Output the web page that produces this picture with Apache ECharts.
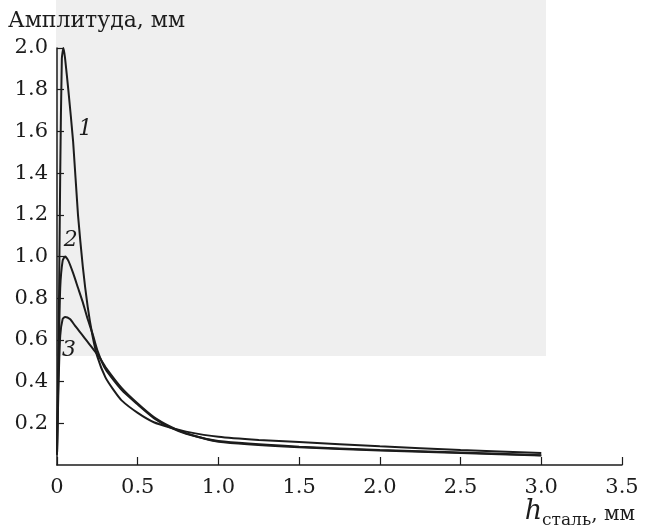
<!DOCTYPE html>
<html>
<head>
<meta charset="utf-8">
<script src="https://cdn.jsdelivr.net/npm/echarts@6/dist/echarts.min.js"></script>
<style>
  html, body { margin: 0; padding: 0; background: #fff; }
  #main { width: 648px; height: 529px; }
</style>
</head>
<body>
<div id="main"></div>
<script>
// толщина стали, мм
var hCurve1 = [0, 0.01, 0.02, 0.03, 0.04, 0.05, 0.07, 0.1, 0.13, 0.16, 0.19, 0.22, 0.25, 0.3, 0.35, 0.4, 0.5, 0.6, 0.7, 0.8, 1.0, 1.25, 1.5, 2.0, 2.5, 3.0];
var ampCurve1 = [0.05, 0.6, 1.4, 1.95, 2.0, 1.95, 1.8, 1.55, 1.2, 0.95, 0.76, 0.62, 0.52, 0.42, 0.36, 0.31, 0.25, 0.205, 0.18, 0.16, 0.135, 0.12, 0.11, 0.09, 0.072, 0.058];

var hCurve2 = [0, 0.01, 0.02, 0.035, 0.05, 0.07, 0.1, 0.13, 0.16, 0.19, 0.22, 0.25, 0.3, 0.4, 0.5, 0.6, 0.7, 0.8, 1.0, 1.5, 2.0, 2.5, 3.0];
var ampCurve2 = [0.05, 0.5, 0.85, 0.98, 1.0, 0.98, 0.92, 0.85, 0.78, 0.7, 0.63, 0.55, 0.46, 0.36, 0.29, 0.225, 0.18, 0.15, 0.115, 0.088, 0.072, 0.06, 0.047];

var hCurve3 = [0, 0.01, 0.02, 0.035, 0.05, 0.08, 0.11, 0.14, 0.17, 0.2, 0.23, 0.26, 0.3, 0.4, 0.5, 0.6, 0.7, 0.8, 1.0, 1.5, 2.0, 2.5, 3.0];
var ampCurve3 = [0.05, 0.4, 0.62, 0.7, 0.71, 0.7, 0.67, 0.64, 0.61, 0.58, 0.55, 0.52, 0.47, 0.37, 0.295, 0.23, 0.185, 0.152, 0.112, 0.085, 0.07, 0.058, 0.045];

var curveNames = ['1', '2', '3'];
var xTicks = [0, 0.5, 1.0, 1.5, 2.0, 2.5, 3.0, 3.5];
var yTicks = [0, 0.2, 0.4, 0.6, 0.8, 1.0, 1.2, 1.4, 1.6, 1.8, 2.0];

// где стоят номера кривых (в единицах осей)
var nameAnchors = [[0.175, 1.61], [0.085, 1.08], [0.075, 0.55]];

var serif = '"DejaVu Serif", "Liberation Serif", serif';

function pairs(xs, ys) {
    var out = [];
    for (var i = 0; i < xs.length; i++) out.push([xs[i], ys[i]]);
    return out;
}

var chart = echarts.init(document.getElementById('main'));

var makeSeries = function (idx, xs, ys) {
    return {
        name: curveNames[idx],
        type: 'line',
        data: pairs(xs, ys),
        showSymbol: false,
        smooth: 0.2,
        lineStyle: { color: '#1c1c1c', width: 2 },
        markPoint: {
            symbol: 'circle',
            symbolSize: 0,
            silent: true,
            label: {
                show: true,
                formatter: '{b}',
                fontFamily: serif,
                fontStyle: 'italic',
                fontSize: 22,
                color: '#1c1c1c'
            },
            data: [{ name: curveNames[idx], coord: nameAnchors[idx] }]
        },
        z: 3
    };
};

var option = {
    backgroundColor: '#fff',
    animation: false,
    graphic: [
        {
            type: 'rect',
            z: -10,
            silent: true,
            shape: { x: 56, y: 0, width: 490, height: 356 },
            style: { fill: '#efefef' }
        }
    ],
    grid: { left: 57, right: 26, top: 48, bottom: 64 },
    xAxis: {
        type: 'value',
        min: xTicks[0],
        max: xTicks[xTicks.length - 1],
        interval: 0.5,
        name: '{h|h}{sub|сталь}{n|, мм}',
        nameLocation: 'end',
        nameGap: 0,
        nameTextStyle: {
            align: 'right',
            verticalAlign: 'top',
            padding: [33, -13, 0, 0],
            rich: {
                h: { fontFamily: serif, fontStyle: 'italic', fontSize: 27, color: '#1c1c1c', verticalAlign: 'bottom' },
                sub: { fontFamily: serif, fontSize: 17, color: '#1c1c1c', verticalAlign: 'bottom', padding: [0, 0, -4, 0] },
                n: { fontFamily: serif, fontSize: 20, color: '#1c1c1c', verticalAlign: 'bottom' }
            }
        },
        axisLine: { lineStyle: { color: '#1c1c1c', width: 1.5 } },
        axisTick: { inside: true, length: 8, lineStyle: { color: '#1c1c1c', width: 1.2 } },
        axisLabel: {
            margin: 12,
            fontFamily: serif,
            fontSize: 21,
            color: '#1c1c1c',
            formatter: function (v) { return v === 0 ? '0' : v.toFixed(1); }
        },
        splitLine: { show: false }
    },
    yAxis: {
        type: 'value',
        min: yTicks[0],
        max: yTicks[yTicks.length - 1],
        interval: 0.2,
        name: 'Амплитуда, мм',
        nameLocation: 'end',
        nameGap: 16,
        nameTextStyle: {
            align: 'left',
            padding: [0, 0, 0, -49],
            fontFamily: serif,
            fontSize: 22,
            color: '#1c1c1c'
        },
        axisLine: { show: true, lineStyle: { color: '#1c1c1c', width: 1.5 } },
        axisTick: { show: true, inside: true, length: 7, lineStyle: { color: '#1c1c1c', width: 1.2 } },
        axisLabel: {
            margin: 9,
            showMinLabel: false,
            fontFamily: serif,
            fontSize: 21,
            color: '#1c1c1c',
            formatter: function (v) { return v.toFixed(1); }
        },
        splitLine: { show: false }
    },
    series: [
        makeSeries(0, hCurve1, ampCurve1),
        makeSeries(1, hCurve2, ampCurve2),
        makeSeries(2, hCurve3, ampCurve3)
    ]
};

chart.setOption(option);
</script>
</body>
</html>
